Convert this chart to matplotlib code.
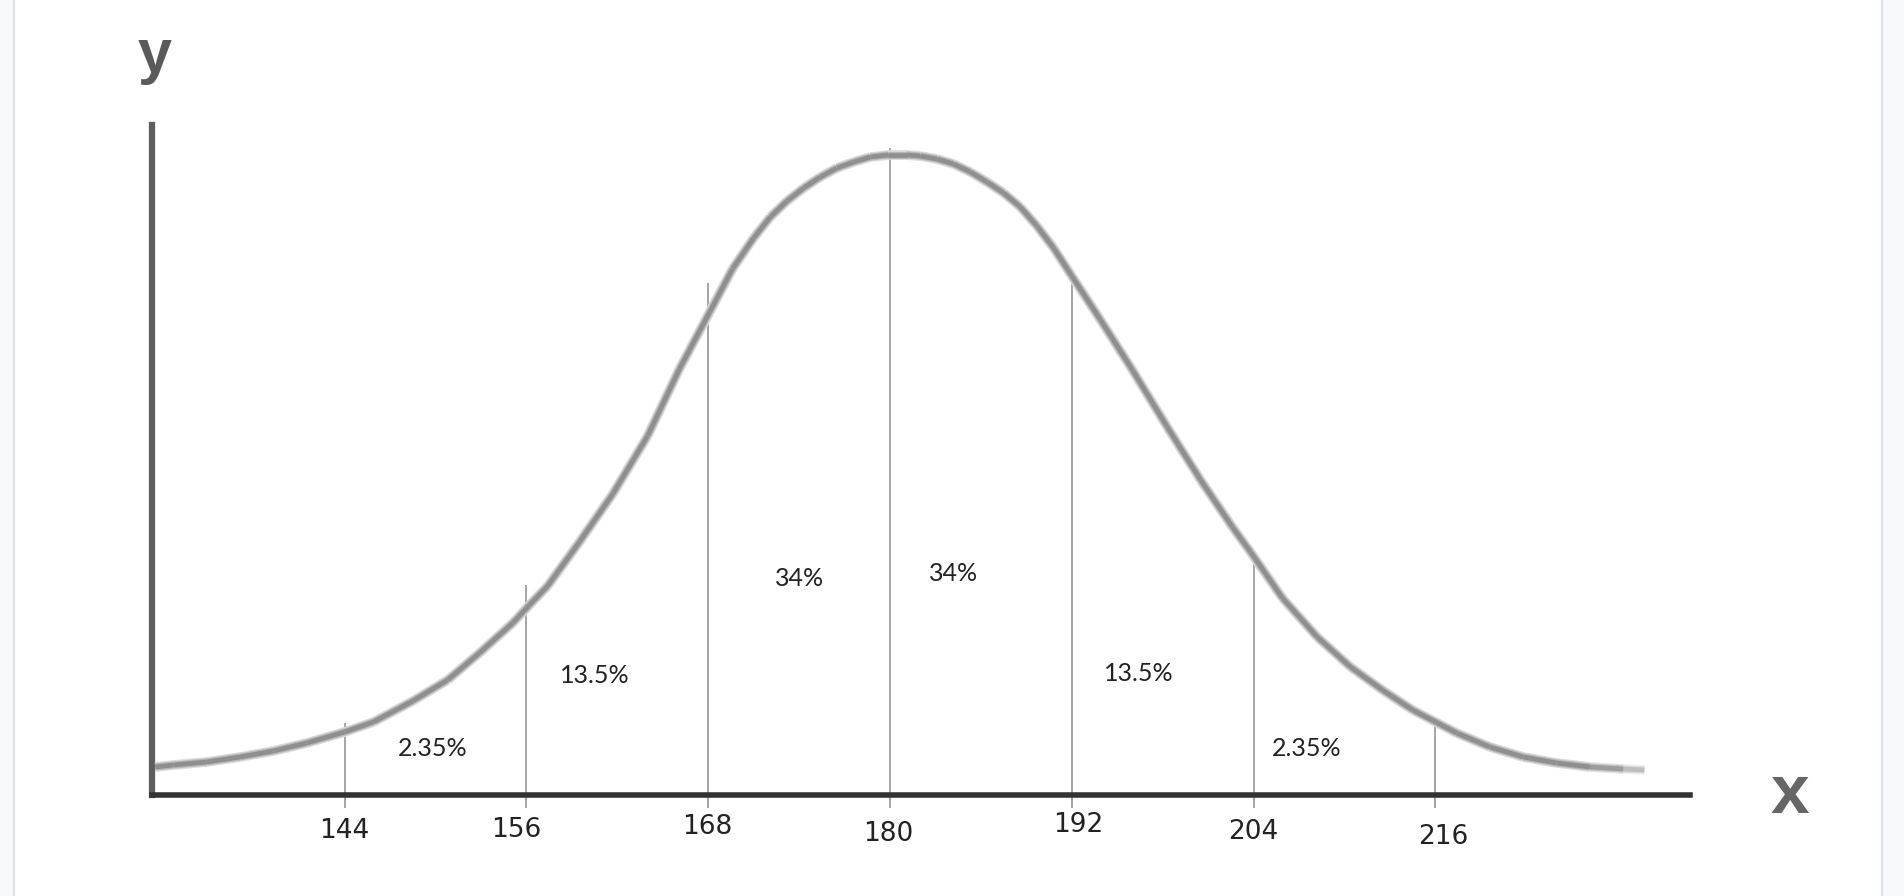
import numpy as np
import matplotlib
matplotlib.use("Agg")
import matplotlib.pyplot as plt
from matplotlib import transforms
from matplotlib.patches import Rectangle
from matplotlib.collections import LineCollection

# --- datos (altura sobre el eje x, unidades arbitrarias) ---
curve_x = [131.5, 132.7, 134.9, 137.1, 139.3, 141.5, 144.0, 145.9, 148.5, 150.8,
           152.9, 155.1, 156.2, 157.4, 159.5, 161.7, 164.0, 166.1, 168.1, 169.6,
           171.0, 172.1, 173.2, 174.3, 175.4, 176.5, 177.6, 178.7, 179.9, 181.1,
           182.0, 183.1, 184.2, 185.3, 186.4, 187.5, 188.6, 189.7, 190.8, 192.0,
           193.9, 196.0, 198.3, 200.5, 202.6, 203.8, 205.9, 208.2, 210.4, 212.5,
           214.5, 217.4, 219.6, 221.8, 224.0, 226.2, 228.4, 229.8]
curve_y = [28, 30, 33, 38, 44, 52, 63, 73, 94, 115,
           142, 172, 190, 209, 253, 301, 359, 426, 483, 526,
           557, 578, 594, 607, 618, 627, 633, 638, 640, 640,
           639, 636, 631, 623, 613, 602, 588, 569, 547, 519,
           475, 425, 368, 315, 268, 243, 197, 158, 128, 105,
           85, 62, 48, 38, 32, 28, 26, 25]

ref_x = [144, 156, 168, 180, 192, 204, 216]
line_tops = [72, 210, 512, 647, 520, 235, 75]
tick_labels = [str(v) for v in ref_x]

pct_labels = ["2.35%", "13.5%", "34%", "34%", "13.5%", "2.35%"]
pct_pos = [(149.8, 47), (160.5, 120), (174.0, 217),
           (184.2, 222), (196.4, 122), (207.5, 47)]

# desplazamientos (px) de las etiquetas del eje, como en la imagen (dy>0 = arriba)
tick_dx = [0, -10, -1, -2, 6, 0, 8]
tick_dy = [-1, 0, 3, -4, 5, -2, -7]

# --- figura ---
W, H = 1904, 896
fig = plt.figure(figsize=(W / 100, H / 100), dpi=100)
fig.patch.set_facecolor("#f8f9fa")
fig.patches.append(Rectangle((14 / W, -0.01), (1882 - 14) / W, 1.02,
                             transform=fig.transFigure, facecolor="white",
                             edgecolor="#dcdfe3", lw=1.5, zorder=-1))

ax = fig.add_axes([0, 0, 1, 1])
ax.set_facecolor("none")
ppu = 15.15  # px por unidad en x
ax.set_xlim(180 - 890 / ppu, 180 + (W - 890) / ppu)
ax.set_ylim(795 - H, 795)
ax.set_xticks([])
ax.set_yticks([])

# ejes
x0, x1 = 131.3, 232.8
for s in ["top", "right"]:
    ax.spines[s].set_visible(False)
ax.spines["left"].set_position(("data", x0))
ax.spines["left"].set_bounds(0, 670)
ax.spines["left"].set_color("#5e5e5e")
ax.spines["left"].set_linewidth(4.5)
ax.spines["bottom"].set_position(("data", 0))
ax.spines["bottom"].set_bounds(x0, x1)
ax.spines["bottom"].set_color("#333333")
ax.spines["bottom"].set_linewidth(4.0)

# lineas verticales
ax.vlines(ref_x, -13, line_tops, color="#8c8c8c", lw=1.1, zorder=2)

# curva (capas suaves, con desvanecimiento al final)
pts = np.column_stack([curve_x, curve_y])
segs = np.stack([pts[:-1], pts[1:]], axis=1)
mid = (np.array(curve_x[:-1]) + np.array(curve_x[1:])) / 2
fade = np.clip((231 - mid) / 5, 0.1, 1)
for lw, g in [(7.0, 0.86), (5.2, 0.72), (3.4, 0.56)]:
    colors = [(g, g, g, a) for a in fade]
    ax.add_collection(LineCollection(segs, colors=colors, linewidths=lw,
                                     capstyle="butt", joinstyle="round", zorder=3))

# etiquetas de porcentaje
for lab, (px, py) in zip(pct_labels, pct_pos):
    ax.text(px, py, lab, ha="center", va="center", fontsize=18,
            family="Lato", color="#222222", zorder=4)

# etiquetas del eje x
for v, lab, dx, dy in zip(ref_x, tick_labels, tick_dx, tick_dy):
    tr = transforms.offset_copy(ax.transData, fig=fig, x=dx, y=dy, units="dots")
    ax.text(v, -35, lab, transform=tr, ha="center", va="center",
            fontsize=19, family=["Liberation Sans Narrow", "DejaVu Sans"],
            color="#222222")

# nombres de ejes
ax.text(x0 + 0.15, 723, "y", ha="center", va="baseline",
        fontsize=44, fontweight="bold", family="Liberation Sans", color="#5a5a5a")
ax.text(180 + (1790 - 890) / ppu, -18, "x", ha="center",
        va="baseline", fontsize=50, fontweight="bold", family="Liberation Sans",
        color="#666666")

fig.savefig("out.png", dpi=100, facecolor=fig.get_facecolor())
